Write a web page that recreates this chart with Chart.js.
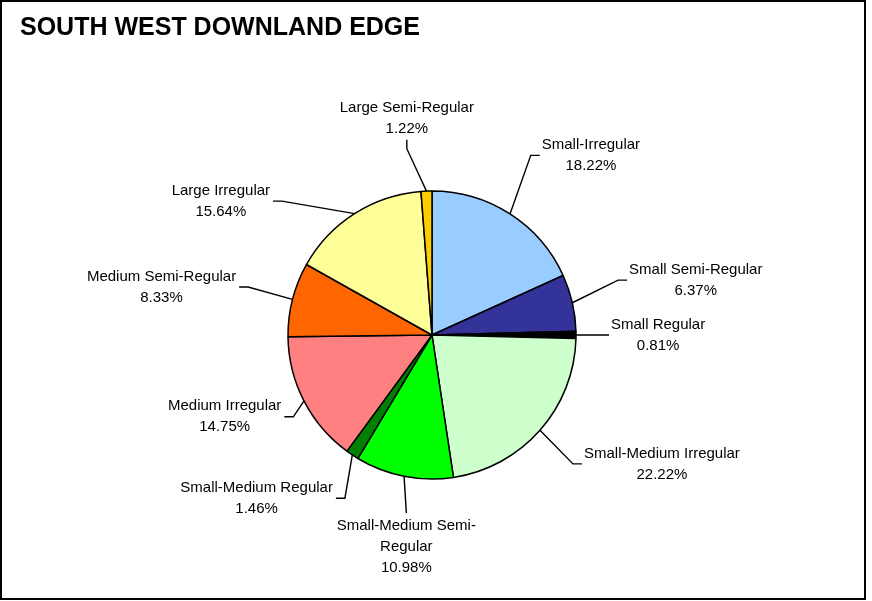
<!DOCTYPE html>
<html>
<head>
<meta charset="utf-8">
<title>South West Downland Edge</title>
<script src="https://cdn.jsdelivr.net/npm/chart.js@4.4.1/dist/chart.umd.min.js"></script>
<style>
  html, body { margin: 0; padding: 0; background: #fff; }
  #wrap { width: 872px; height: 601px; position: relative; }
</style>
</head>
<body>
<div id="wrap"><canvas id="chart-pie"></canvas></div>
<script>
// slices, clockwise from 12 o'clock
var categories = ["Small-Irregular", "Small Semi-Regular", "Small Regular", "Small-Medium Irregular",
  "Small-Medium Semi-Regular", "Small-Medium Regular", "Medium Irregular", "Medium Semi-Regular",
  "Large Irregular", "Large Semi-Regular"];
var shares = [18.22, 6.37, 0.81, 22.22, 10.98, 1.46, 14.75, 8.33, 15.64, 1.22];
var sliceColours = ["#99CCFF", "#333399", "#000000", "#CCFFCC", "#00FF00", "#008000",
  "#FF8080", "#FF6600", "#FFFF99", "#FFCC00"];

// where the leader line bends: turn from the slice's mid angle (deg), distance from centre (px)
var labelTurn = [-4, -3.5, 0, 1, -3, -5.5, -3.3, 0.3, -15.7, -5.5];
var labelReach = [205, 194, 168, 191, 180, 185, 161, 190, 201, 188];

var labelFont = '15px "Liberation Sans", Arial, sans-serif';
var lineH = 21;

// break long names after a space or hyphen
function wrapName(ctx, text, maxW) {
  var bits = text.match(/[^ -]+[- ]?/g);
  var out = [], line = '';
  bits.forEach(function(b) {
    var test = line + b;
    if (line && ctx.measureText(test.trim()).width > maxW) {
      out.push(line.trim());
      line = b;
    } else {
      line = test;
    }
  });
  out.push(line.trim());
  return out;
}

var leaderLabels = {
  id: 'leaderLabels',
  beforeDraw: function(chart) {
    var ctx = chart.ctx;
    ctx.save();
    ctx.fillStyle = '#fff';
    ctx.fillRect(0, 0, chart.width, chart.height);
    ctx.restore();
  },
  afterDraw: function(chart) {
    var ctx = chart.ctx;
    var meta = chart.getDatasetMeta(0);
    ctx.save();
    ctx.font = labelFont;
    ctx.fillStyle = '#000';
    ctx.strokeStyle = '#000';
    ctx.lineWidth = 1.4;
    ctx.textAlign = 'center';
    ctx.textBaseline = 'middle';
    meta.data.forEach(function(arc, i) {
      var p = arc.getProps(['x', 'y', 'startAngle', 'endAngle', 'outerRadius'], true);
      var mid = (p.startAngle + p.endAngle) / 2;
      var a0 = { x: p.x + Math.cos(mid) * p.outerRadius, y: p.y + Math.sin(mid) * p.outerRadius };
      var turn = mid + labelTurn[i] * Math.PI / 180;
      var e = { x: p.x + Math.cos(turn) * labelReach[i], y: p.y + Math.sin(turn) * labelReach[i] };
      var lines = wrapName(ctx, categories[i], 170);
      lines.push(shares[i].toFixed(2) + '%');
      var w = 0;
      lines.forEach(function(l) { w = Math.max(w, ctx.measureText(l).width); });
      var h = lines.length * lineH;
      var deg = ((mid * 180 / Math.PI + 90) % 360 + 360) % 360;
      var end, cx, top;
      if (deg < 12 || deg > 348) {
        end = { x: e.x, y: e.y - 9 }; cx = e.x; top = end.y - h;
      } else if (Math.abs(deg - 180) < 12) {
        end = { x: e.x, y: e.y }; cx = e.x; top = e.y + 2;
      } else if (deg < 180) {
        end = { x: e.x + 9, y: e.y }; cx = e.x + 11 + w / 2; top = e.y - h / 2;
      } else {
        end = { x: e.x - 9, y: e.y }; cx = e.x - 12 - w / 2; top = e.y - h / 2;
      }
      ctx.beginPath();
      ctx.moveTo(a0.x, a0.y);
      ctx.lineTo(e.x, e.y);
      ctx.lineTo(end.x, end.y);
      ctx.stroke();
      lines.forEach(function(l, j) {
        ctx.fillText(l, cx, top + lineH * (j + 0.5));
      });
    });
    // chart frame
    ctx.lineWidth = 2;
    ctx.strokeRect(1, 1, 864, 598);
    ctx.restore();
  }
};

new Chart(document.getElementById('chart-pie').getContext('2d'), {
  type: 'pie',
  data: {
    labels: categories,
    datasets: [{
      data: shares,
      backgroundColor: sliceColours,
      borderColor: '#000',
      borderWidth: 1.5,
      hoverOffset: 0,
      radius: 144
    }]
  },
  options: {
    responsive: true,
    maintainAspectRatio: false,
    animation: false,
    events: [],
    layout: { padding: { left: 20, right: 28, top: 0, bottom: 0 } },
    plugins: {
      legend: { display: false },
      tooltip: { enabled: false },
      title: {
        display: true,
        text: 'SOUTH WEST DOWNLAND EDGE',
        align: 'start',
        color: '#000',
        font: { family: '"Liberation Sans", Arial, sans-serif', size: 25, weight: 'bold', lineHeight: 1.2 },
        padding: { top: 13, bottom: 26 }
      }
    }
  },
  plugins: [leaderLabels]
});
</script>
</body>
</html>
